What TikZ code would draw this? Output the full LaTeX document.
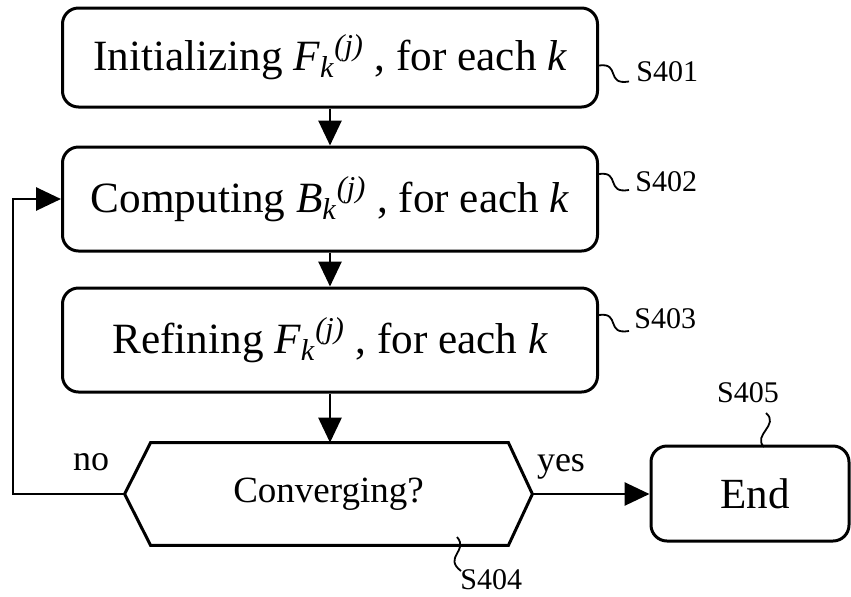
\documentclass[tikz,border=0pt]{standalone}
\usepackage{amsmath}
\usepackage{fontspec}
\setmainfont{Liberation Serif}
\usetikzlibrary{arrows.meta}
\newcommand{\itx}[1]{\text{\itshape #1}}
\newcommand{\Fkj}[1]{$\itx{#1}_{\itx{k}}{}^{\itx{(j)}}$}

\begin{document}
\begin{tikzpicture}[x=0.5pt,y=-0.5pt,
    stepbox/.style={draw,line width=1.5pt,rounded corners=8pt,minimum width=267.5pt,
      font=\fontsize{21.6}{26}\selectfont},
    flow/.style={line width=1.4pt,-{Triangle[length=12.5pt,width=11.5pt]}},
    tag/.style={font=\fontsize{15}{18}\selectfont,inner sep=0pt},
    squig/.style={line width=0.9pt}]
\useasboundingbox (0,0) rectangle (851,596);
% the three steps
\node[stepbox,minimum height=49.5pt] (init) at (330,57.5) {Initializing \Fkj{F} , for each \itx{k}};
\node[stepbox,minimum height=52pt] (comp) at (330,199) {Computing \Fkj{B} , for each \itx{k}};
\node[stepbox,minimum height=52pt] (refine) at (330,340) {Refining \Fkj{F} , for each \itx{k}};
% decision
\node[minimum width=203.5pt,minimum height=51pt,font=\fontsize{18.5}{22}\selectfont] (conv) at (328.5,494) {Converging?};
\draw[line width=1.5pt] ([xshift=13pt]conv.north west) -- ([xshift=-12pt]conv.north east) -- (conv.east)
  -- ([xshift=-12pt]conv.south east) -- ([xshift=13pt]conv.south west) -- (conv.west) -- cycle;
\node[stepbox,minimum width=99pt,minimum height=47.5pt,font=\fontsize{21.5}{25}\selectfont] (end) at (750,493.5) {\hspace{5pt}End};
% arrows
\draw[flow] (init) -- (comp);
\draw[flow] (comp) -- (refine);
\draw[flow] (refine) -- (refine |- conv.north);
\draw[flow] (conv.east) -- (conv.east -| end.west);
\coordinate (back) at (13,0);
\draw[flow] (conv.west) -- (conv.west -| back) |- (comp.west);
\node[font=\fontsize{18}{21}\selectfont] (no) at (91,462) {no};
\node[font=\fontsize{18}{21}\selectfont] (yes) at (561,467) {yes};
% step tags
\node[tag,anchor=west] (s401) at (636,72) {S401};
\node[tag,anchor=west] (s402) at (635,182) {S402};
\node[tag,anchor=west] (s403) at (634,319) {S403};
\node[tag] (s405) at (748,393) {S405};
\node[tag,anchor=west] (s404) at (460,580) {S404};
\draw[squig] ([yshift=-4pt]init.east) .. controls +(22,-3) and +(-24,4) .. ++(30,16);
\draw[squig] ([yshift=12.5pt]comp.east) .. controls +(22,-3) and +(-24,4) .. ++(30,16);
\draw[squig] ([yshift=12.5pt]refine.east) .. controls +(22,-3) and +(-24,4) .. ++(30,16);
\draw[squig] (766,413) .. controls +(14,12) and +(-12,-12) .. (764,447);
\draw[squig] (457,537) .. controls +(12,14) and +(-18,-14) .. (461,571);
\end{tikzpicture}
\end{document}
